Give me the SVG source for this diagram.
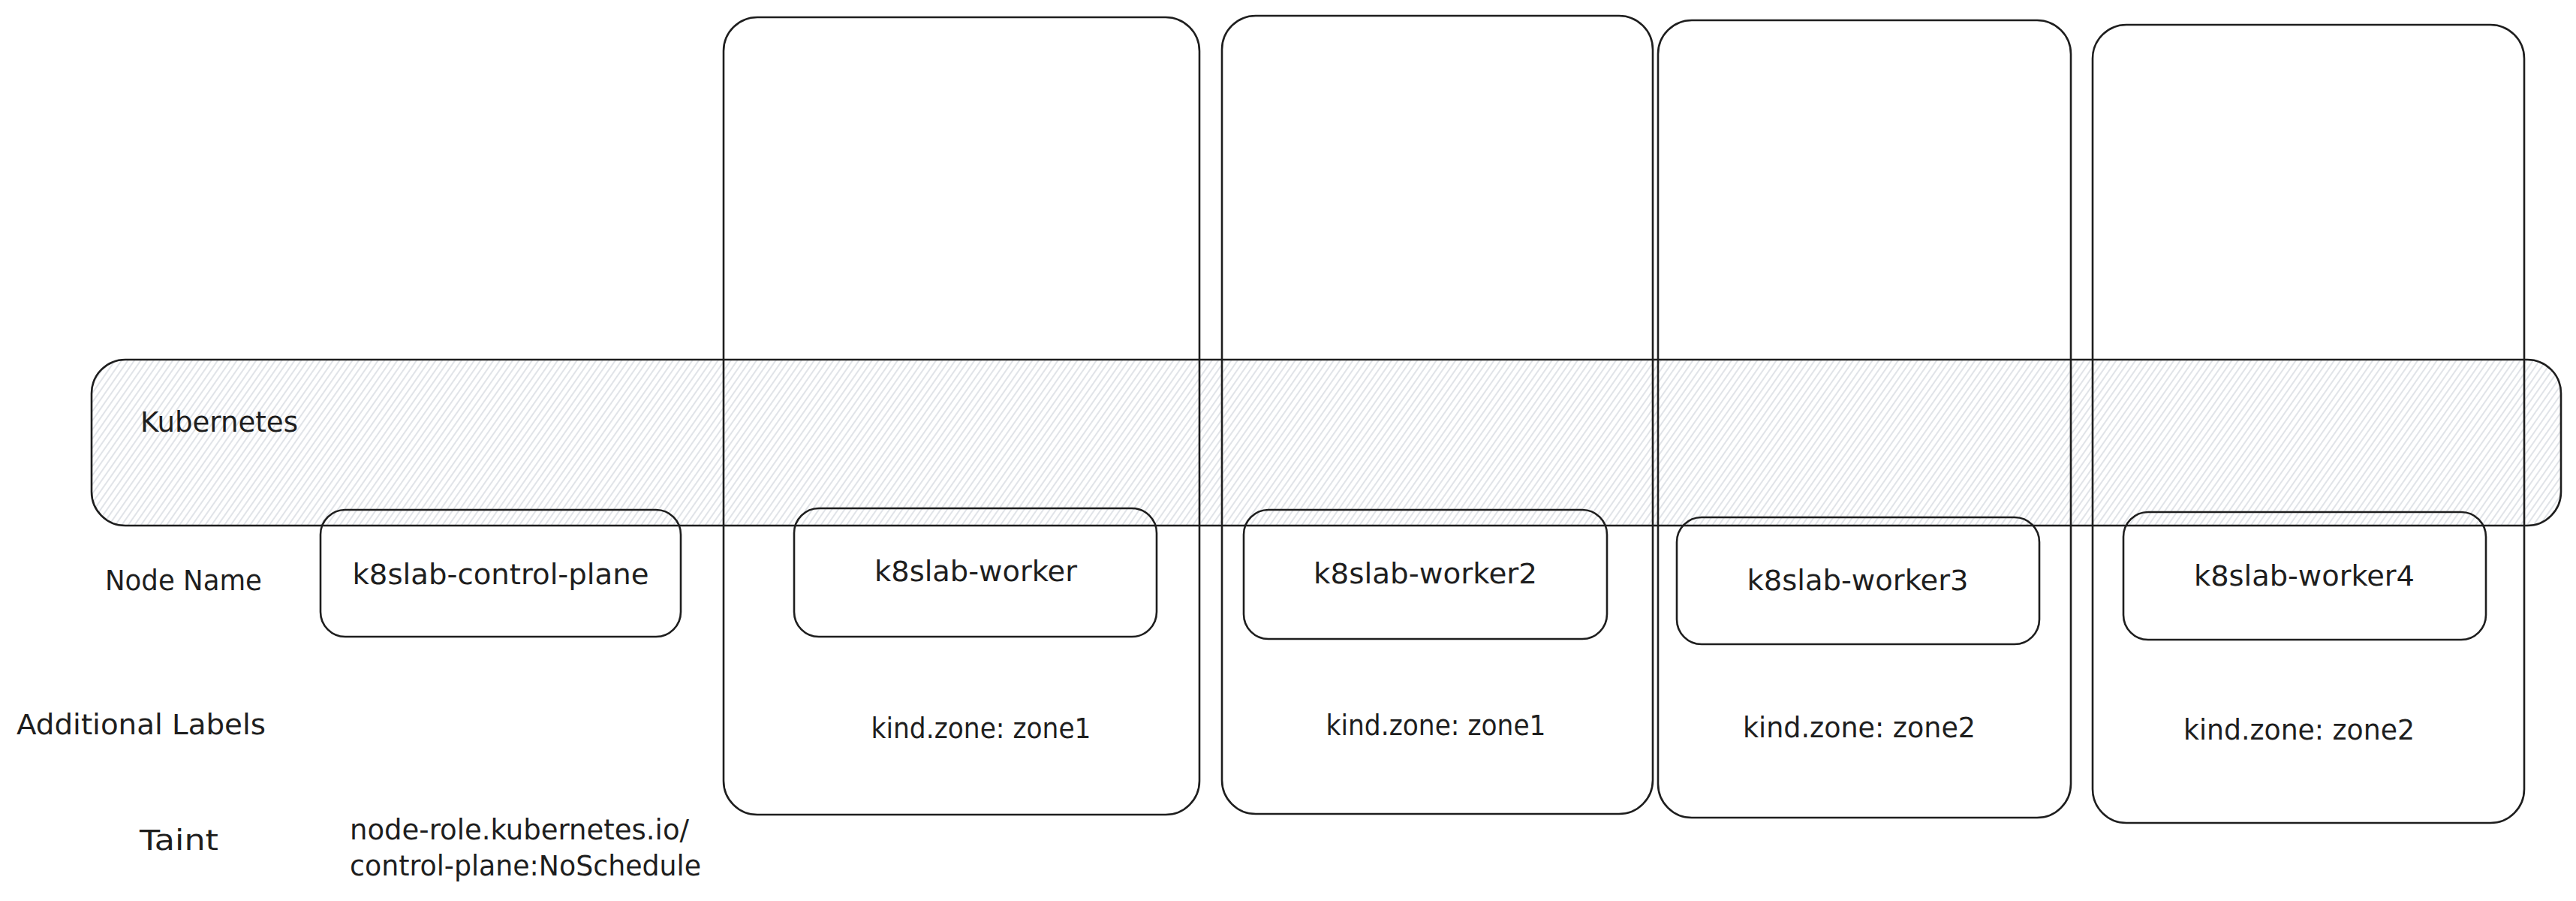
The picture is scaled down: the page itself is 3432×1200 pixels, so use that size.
<svg xmlns="http://www.w3.org/2000/svg" width="3432" height="1200" viewBox="0 0 3432 1200">
<style>
.box{fill:none;stroke:#1e1e1e;stroke-width:2.6}
.t{font-family:"DejaVu Sans","Liberation Sans",sans-serif;font-size:37px;fill:#1e1e1e}
.c{text-anchor:middle}
</style>
<defs>
<pattern id="hatch" patternUnits="userSpaceOnUse" width="7" height="14" patternTransform="rotate(35)">
<line x1="2" y1="0" x2="2" y2="14" stroke="#ccd1d8" stroke-width="1.2"/>
</pattern>
</defs>
<rect width="3432" height="1200" fill="#ffffff"/>
<g id="kubernetes"><rect x="122" y="479" width="3290" height="221" rx="45" fill="url(#hatch)" stroke="#1e1e1e" stroke-width="2.6"/>
<text class="t" x="187" y="575" textLength="210" lengthAdjust="spacingAndGlyphs">Kubernetes</text></g>
<g id="zone-worker"><rect class="box" x="964" y="23" width="634" height="1062" rx="45"/></g>
<g id="zone-worker2"><rect class="box" x="1628" y="21" width="574" height="1063" rx="45"/></g>
<g id="zone-worker3"><rect class="box" x="2209" y="27" width="550" height="1062" rx="45"/></g>
<g id="zone-worker4"><rect class="box" x="2788" y="33" width="575" height="1063" rx="45"/></g>
<g id="node-control-plane"><rect class="box" x="427" y="679" width="480" height="169" rx="33"/>
<text class="t c" x="667" y="778" textLength="395" lengthAdjust="spacingAndGlyphs">k8slab-control-plane</text></g>
<g id="node-worker"><rect class="box" x="1058" y="677" width="483" height="171" rx="33"/>
<text class="t c" x="1300" y="774" textLength="270" lengthAdjust="spacingAndGlyphs">k8slab-worker</text>
<text class="t c" x="1307" y="983" textLength="293" lengthAdjust="spacingAndGlyphs">kind.zone: zone1</text></g>
<g id="node-worker2"><rect class="box" x="1657" y="679" width="484" height="172" rx="33"/>
<text class="t c" x="1899" y="777" textLength="298" lengthAdjust="spacingAndGlyphs">k8slab-worker2</text>
<text class="t c" x="1913" y="979" textLength="293" lengthAdjust="spacingAndGlyphs">kind.zone: zone1</text></g>
<g id="node-worker3"><rect class="box" x="2234" y="689" width="483" height="169" rx="33"/>
<text class="t c" x="2475" y="786" textLength="295" lengthAdjust="spacingAndGlyphs">k8slab-worker3</text>
<text class="t c" x="2477" y="982" textLength="310" lengthAdjust="spacingAndGlyphs">kind.zone: zone2</text></g>
<g id="node-worker4"><rect class="box" x="2829" y="682" width="483" height="170" rx="33"/>
<text class="t c" x="3070" y="780" textLength="294" lengthAdjust="spacingAndGlyphs">k8slab-worker4</text>
<text class="t c" x="3063" y="985" textLength="308" lengthAdjust="spacingAndGlyphs">kind.zone: zone2</text></g>
<g id="row-labels">
<text class="t" x="140" y="786" textLength="209" lengthAdjust="spacingAndGlyphs">Node Name</text>
<text class="t" x="22" y="978" textLength="332" lengthAdjust="spacingAndGlyphs">Additional Labels</text>
<text class="t" x="186" y="1132" textLength="105" lengthAdjust="spacingAndGlyphs">Taint</text>
</g>
<g id="taint-control-plane">
<text class="t" x="466" y="1118" textLength="452" lengthAdjust="spacingAndGlyphs">node-role.kubernetes.io/</text>
<text class="t" x="466" y="1166" textLength="468" lengthAdjust="spacingAndGlyphs">control-plane:NoSchedule</text>
</g>
<g id="connectors"></g>
</svg>
